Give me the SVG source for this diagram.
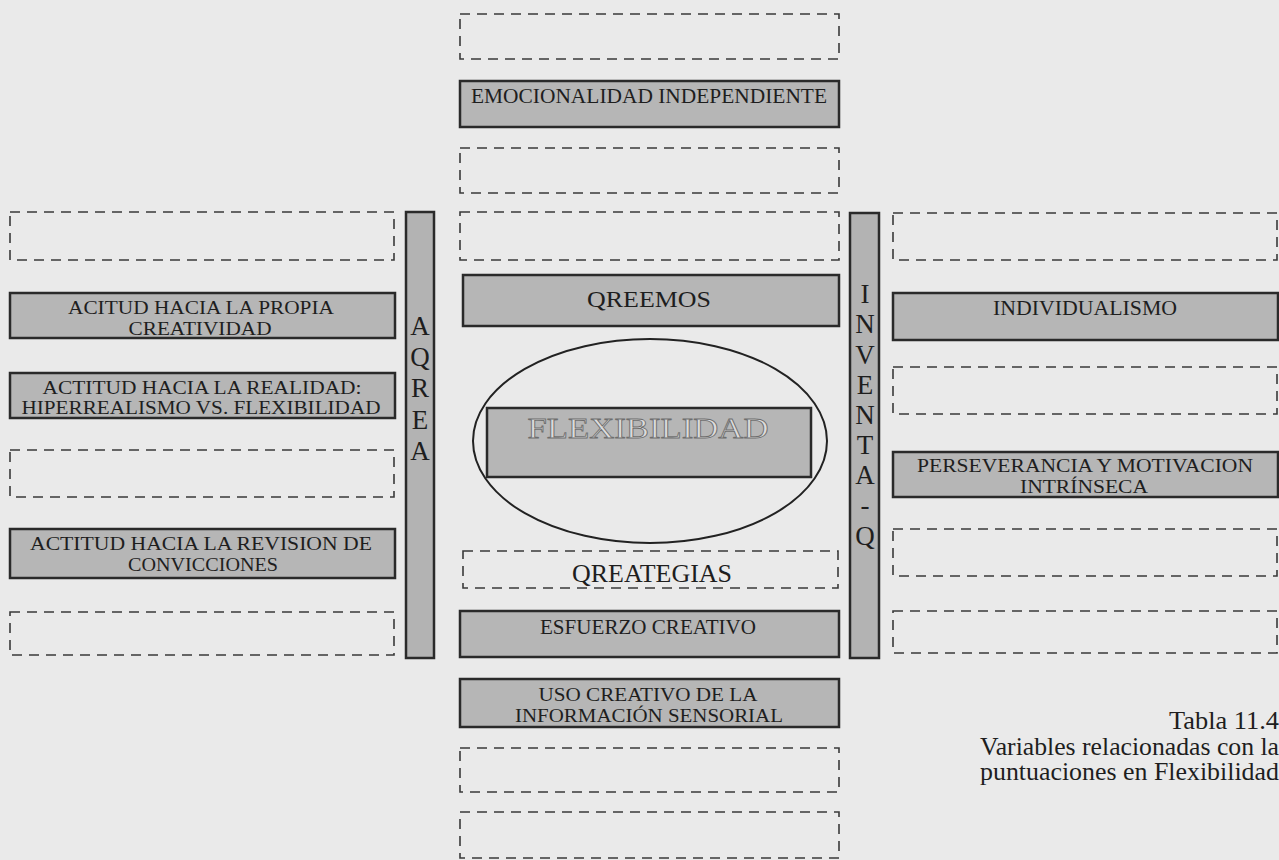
<svg xmlns="http://www.w3.org/2000/svg" width="1279" height="860" viewBox="0 0 1279 860">
<style>
.bg{fill:#eaeaea}
.dash{fill:none;stroke:#3a3a3a;stroke-width:1.6;stroke-dasharray:10 7}
.box{fill:#b6b6b6;stroke:#2a2a2a;stroke-width:2.5}
.bar{fill:#b3b3b3;stroke:#2a2a2a;stroke-width:2.5}
.t{font-family:"Liberation Serif","Times New Roman",serif;font-size:21px;fill:#1e1e1e;text-anchor:middle}
.t2{font-family:"Liberation Serif","Times New Roman",serif;font-size:18.5px;fill:#1e1e1e;text-anchor:middle}
.v{font-family:"Liberation Serif","Times New Roman",serif;font-size:27px;fill:#1e1e1e;text-anchor:middle}
.cap{font-family:"Liberation Serif","Times New Roman",serif;font-size:25px;fill:#1e1e1e}
.flex{font-family:"Liberation Serif","Times New Roman",serif;font-size:29px;fill:#dcdcdc;stroke:#6e6e6e;stroke-width:0.8;text-anchor:middle}
</style>
<rect class="bg" x="0" y="0" width="1279" height="860"/>

<g id="connectors"></g>

<g id="center-column">
  <g id="c-dash1"><rect class="dash" x="460" y="14" width="379" height="45"/></g>
  <g id="emocionalidad"><rect class="box" x="460" y="81" width="379" height="46"/>
    <text class="t" x="649" y="103" textLength="356" lengthAdjust="spacingAndGlyphs">EMOCIONALIDAD INDEPENDIENTE</text></g>
  <g id="c-dash2"><rect class="dash" x="460" y="148" width="379" height="45"/></g>
  <g id="c-dash3"><rect class="dash" x="460" y="212" width="379" height="48"/></g>
  <g id="qreemos"><rect class="box" x="463" y="275" width="376" height="51"/>
    <text class="t" x="649" y="307" style="font-size:23px" textLength="124" lengthAdjust="spacingAndGlyphs">QREEMOS</text></g>
  <g id="flexibilidad">
    <ellipse cx="650" cy="441" rx="177" ry="102" fill="none" stroke="#222" stroke-width="2"/>
    <rect class="box" x="487" y="408" width="324" height="69"/>
    <text class="flex" x="648" y="438" textLength="241" lengthAdjust="spacingAndGlyphs">FLEXIBILIDAD</text></g>
  <g id="qreategias"><rect class="dash" x="463" y="551" width="375" height="37"/>
    <text class="t" x="652" y="582" style="font-size:25px" textLength="160" lengthAdjust="spacingAndGlyphs">QREATEGIAS</text></g>
  <g id="esfuerzo"><rect class="box" x="460" y="611" width="379" height="46"/>
    <text class="t" x="648" y="634" textLength="216" lengthAdjust="spacingAndGlyphs">ESFUERZO CREATIVO</text></g>
  <g id="uso"><rect class="box" x="460" y="679" width="379" height="48"/>
    <text class="t2" x="648" y="701" textLength="219" lengthAdjust="spacingAndGlyphs">USO CREATIVO DE LA</text>
    <text class="t2" x="649" y="722" textLength="268" lengthAdjust="spacingAndGlyphs">INFORMACIÓN SENSORIAL</text></g>
  <g id="c-dash4"><rect class="dash" x="460" y="748" width="379" height="44"/></g>
  <g id="c-dash5"><rect class="dash" x="460" y="812" width="379" height="46"/></g>
</g>

<g id="acrea">
  <rect class="bar" x="406" y="212" width="28" height="446"/>
  <text class="v" x="420" y="335">A</text>
  <text class="v" x="420" y="366">Q</text>
  <text class="v" x="420" y="397">R</text>
  <text class="v" x="420" y="429">E</text>
  <text class="v" x="420" y="460">A</text>
</g>

<g id="left-column">
  <g id="l-dash1"><rect class="dash" x="10" y="212" width="384" height="48"/></g>
  <g id="propia"><rect class="box" x="10" y="293" width="385" height="45"/>
    <text class="t2" x="201" y="314" textLength="266" lengthAdjust="spacingAndGlyphs">ACITUD HACIA LA PROPIA</text>
    <text class="t2" x="200" y="335" textLength="143" lengthAdjust="spacingAndGlyphs">CREATIVIDAD</text></g>
  <g id="realidad"><rect class="box" x="10" y="373" width="385" height="45"/>
    <text class="t2" x="202" y="394" textLength="319" lengthAdjust="spacingAndGlyphs">ACTITUD HACIA LA REALIDAD:</text>
    <text class="t2" x="201" y="414" textLength="359" lengthAdjust="spacingAndGlyphs">HIPERREALISMO VS. FLEXIBILIDAD</text></g>
  <g id="l-dash2"><rect class="dash" x="10" y="450" width="384" height="47"/></g>
  <g id="revision"><rect class="box" x="10" y="529" width="385" height="49"/>
    <text class="t2" x="201" y="550" textLength="342" lengthAdjust="spacingAndGlyphs">ACTITUD HACIA LA REVISION DE</text>
    <text class="t2" x="203" y="571" textLength="150" lengthAdjust="spacingAndGlyphs">CONVICCIONES</text></g>
  <g id="l-dash3"><rect class="dash" x="10" y="612" width="384" height="43"/></g>
</g>

<g id="inventa-q">
  <rect class="bar" x="850" y="213" width="29" height="445"/>
  <text class="v" x="865" y="303">I</text>
  <text class="v" x="865" y="333">N</text>
  <text class="v" x="865" y="364">V</text>
  <text class="v" x="865" y="394">E</text>
  <text class="v" x="865" y="424">N</text>
  <text class="v" x="865" y="454">T</text>
  <text class="v" x="865" y="484">A</text>
  <text class="v" x="865" y="514">-</text>
  <text class="v" x="865" y="545">Q</text>
</g>

<g id="right-column">
  <g id="r-dash1"><rect class="dash" x="893" y="213" width="384" height="47"/></g>
  <g id="individualismo"><rect class="box" x="893" y="293" width="385" height="47"/>
    <text class="t" x="1085" y="315" textLength="184" lengthAdjust="spacingAndGlyphs">INDIVIDUALISMO</text></g>
  <g id="r-dash2"><rect class="dash" x="893" y="367" width="384" height="47"/></g>
  <g id="perseverancia"><rect class="box" x="893" y="452" width="385" height="45"/>
    <text class="t2" x="1085" y="472" textLength="336" lengthAdjust="spacingAndGlyphs">PERSEVERANCIA Y MOTIVACION</text>
    <text class="t2" x="1084" y="493" textLength="128" lengthAdjust="spacingAndGlyphs">INTRÍNSECA</text></g>
  <g id="r-dash3"><rect class="dash" x="893" y="529" width="384" height="47"/></g>
  <g id="r-dash4"><rect class="dash" x="893" y="611" width="384" height="42"/></g>
</g>

<g id="caption">
  <text class="cap" x="1169" y="729" textLength="110" lengthAdjust="spacingAndGlyphs">Tabla 11.4</text>
  <text class="cap" x="980" y="755" textLength="299" lengthAdjust="spacingAndGlyphs">Variables relacionadas con la</text>
  <text class="cap" x="980" y="780" textLength="299" lengthAdjust="spacingAndGlyphs">puntuaciones en Flexibilidad</text>
</g>
</svg>
